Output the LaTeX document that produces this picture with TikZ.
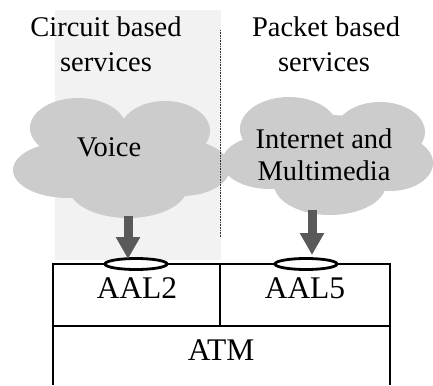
\documentclass[tikz,border=0pt]{standalone}
\usepackage{fontspec}
\setmainfont{Liberation Serif}
\usetikzlibrary{arrows.meta,shapes.geometric}
\definecolor{bgc}{HTML}{F2F2F2}
\definecolor{cloudc}{HTML}{CCCCCC}
\definecolor{arrc}{HTML}{595959}
\tikzset{
  lbl/.style={anchor=base,inner sep=0pt,font=\fontsize{28.5}{34}\selectfont},
  lyr/.style={anchor=base,inner sep=0pt,font=\fontsize{31.5}{36}\selectfont},
  boxline/.style={line width=2.6pt,black},
  port/.style={draw=black,fill=white,ellipse,line width=2.8pt,minimum width=62pt,minimum height=11pt,inner sep=0pt},
  flow/.style={draw=arrc,line width=9pt,-{Triangle[width=23pt,length=22pt]}},
  sep/.style={draw=black!80,line width=0.9pt,dash pattern=on 0.8pt off 0.8pt}
}
\begin{document}
\begin{tikzpicture}[x=1pt,y=-1pt]
\useasboundingbox (0,0) rectangle (433,385);
% shaded circuit area
\fill[bgc] (55,10) rectangle (221,260);
% left cloud
\fill[cloudc] (78,128) ellipse [x radius=48, y radius=30];
\fill[cloudc] (165,131) ellipse [x radius=45, y radius=30];
\fill[cloudc] (68,170) ellipse [x radius=55, y radius=28];
\fill[cloudc] (182,168) ellipse [x radius=48, y radius=28];
\fill[cloudc] (128,186) ellipse [x radius=60, y radius=32];
\fill[cloudc] (122,158) ellipse [x radius=80, y radius=40];
% right cloud
\fill[cloudc] (289,129) ellipse [x radius=49, y radius=32];
\fill[cloudc] (380,132) ellipse [x radius=45, y radius=30];
\fill[cloudc] (270,162) ellipse [x radius=48, y radius=27];
\fill[cloudc] (390,163) ellipse [x radius=43, y radius=28];
\fill[cloudc] (330,184) ellipse [x radius=56, y radius=31];
\fill[cloudc] (328,155) ellipse [x radius=82, y radius=40];
% separator
\coordinate (sepTop) at (220,30);
\coordinate (sepBot) at (220,237);
\draw[sep] (sepTop) -- (sepBot);
% layer boxes
\draw[boxline] (53,385) -- (53,264) -- (390,264) -- (390,385);
\draw[boxline] (53,326) -- (390,326);
\draw[boxline] (220,264) -- (220,326);
% labels
\node[lbl] (c1) at (106,37) {Circuit based};
\node[lbl] (c2) at (106,72) {services};
\node[lbl] (p1) at (326,37) {Packet based};
\node[lbl] (p2) at (324,72) {services};
\node[lbl] (voice) at (109,156) {Voice};
\node[lbl] (inet1) at (324,148) {Internet and};
\node[lbl] (inet2) at (324,180) {Multimedia};
\node[lyr] (aal2) at (137,298) {AAL2};
\node[lyr] (aal5) at (305,298) {AAL5};
\node[lyr] (atm) at (221,360) {ATM};
% ports
\node[port] (e2) at (136,264) {};
\node[port] (e5) at (306,264) {};
% arrows
\coordinate (a2s) at (128,216);
\coordinate (a2e) at (128,259);
\coordinate (a5s) at (312,210);
\coordinate (a5e) at (312,255);
\draw[flow] (a2s) -- (a2e);
\draw[flow] (a5s) -- (a5e);
\end{tikzpicture}
\end{document}
